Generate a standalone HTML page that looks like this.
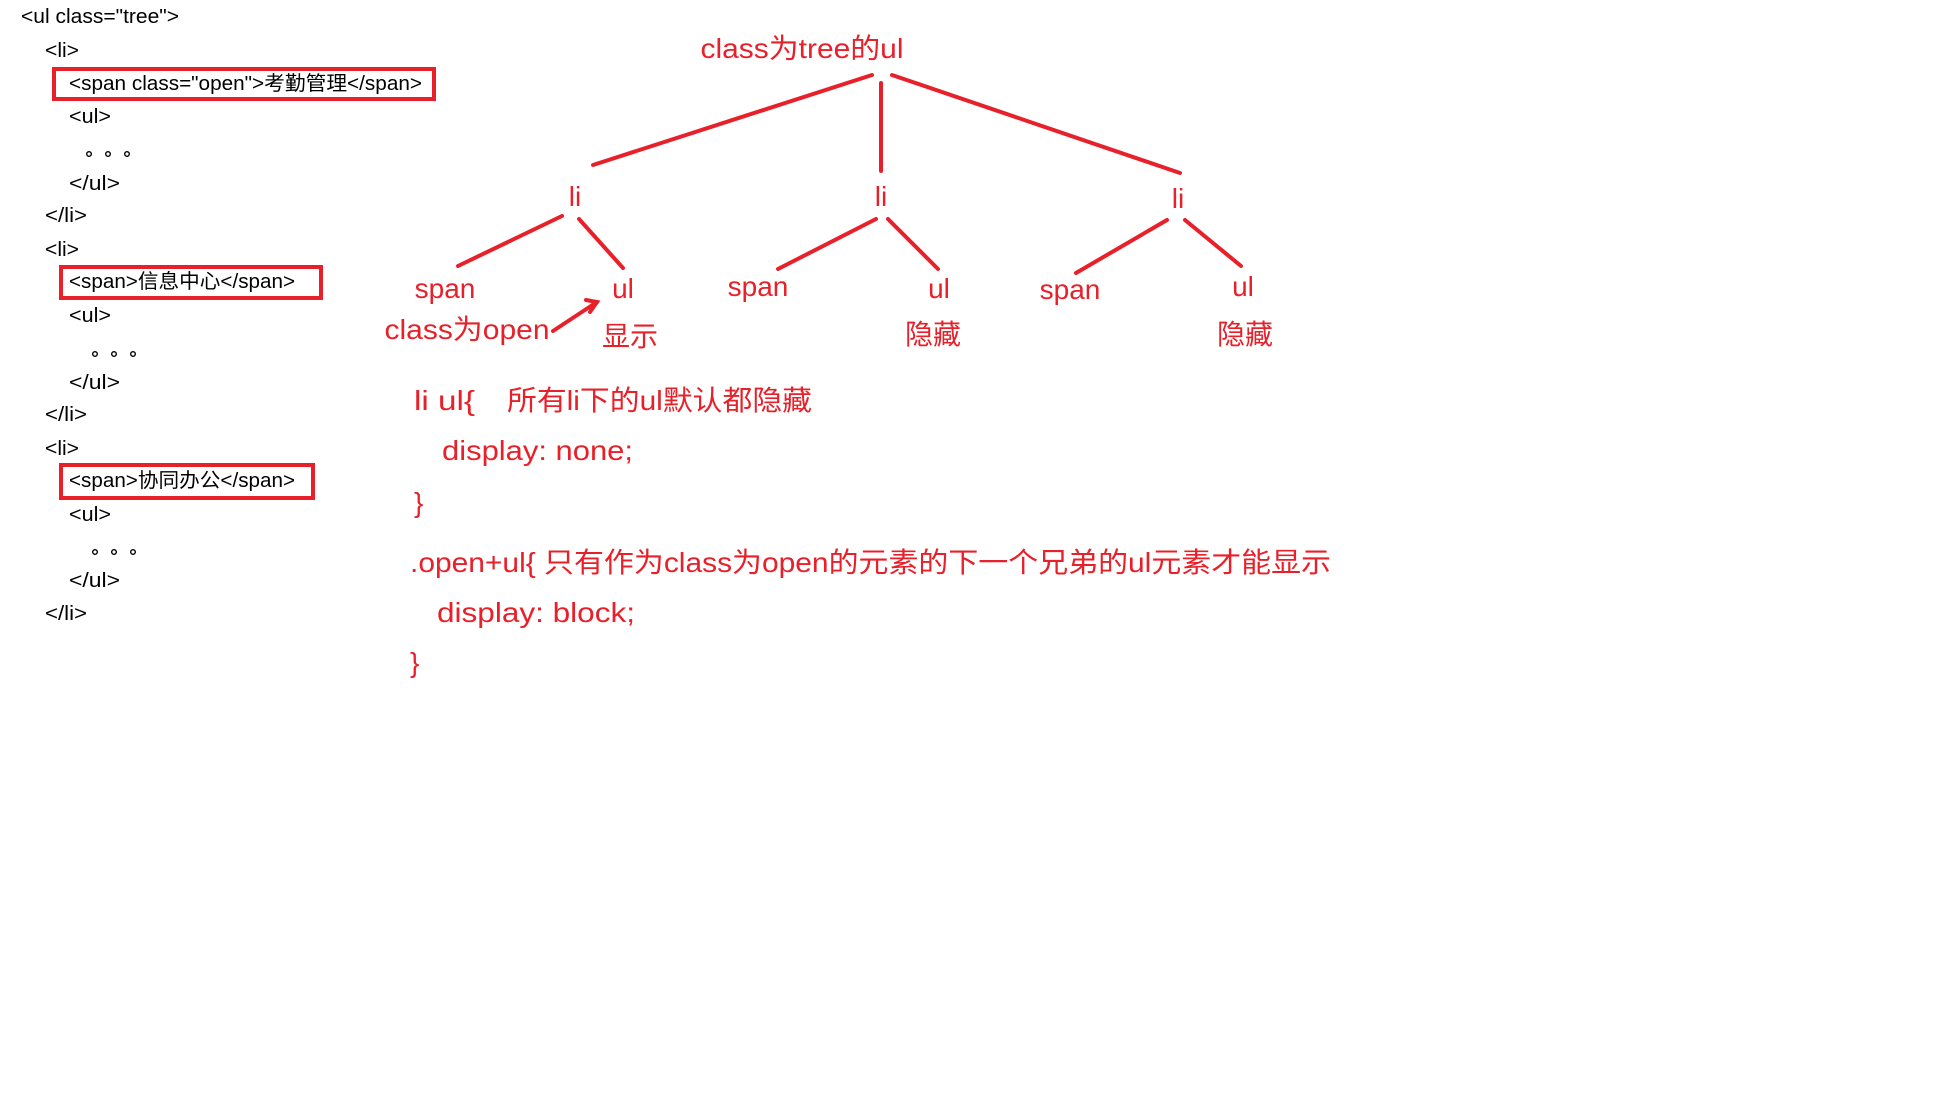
<!DOCTYPE html>
<html><head><meta charset="utf-8"><style>
html,body{margin:0;padding:0;background:#fff;}
svg{display:block;}
.c{font-family:"Liberation Sans","Noto Sans CJK SC",sans-serif;font-size:20px;fill:#000;}
.r{font-family:"Liberation Sans","Noto Sans CJK SC",sans-serif;font-size:28px;fill:#e8202a;}
</style></head><body>
<svg width="1952" height="1096" viewBox="0 0 1952 1096" xmlns="http://www.w3.org/2000/svg">
<rect width="1952" height="1096" fill="#fff"/>
<g class="c">
<text x="21" y="23" textLength="158" lengthAdjust="spacingAndGlyphs">&lt;ul class="tree"&gt;</text>
<text x="45" y="57" textLength="34" lengthAdjust="spacingAndGlyphs">&lt;li&gt;</text>
<text x="69" y="90" textLength="353" lengthAdjust="spacingAndGlyphs">&lt;span class="open"&gt;考勤管理&lt;/span&gt;</text>
<text x="69" y="123" textLength="42" lengthAdjust="spacingAndGlyphs">&lt;ul&gt;</text>
<text x="69" y="190" textLength="51" lengthAdjust="spacingAndGlyphs">&lt;/ul&gt;</text>
<text x="45" y="222" textLength="42" lengthAdjust="spacingAndGlyphs">&lt;/li&gt;</text>
<text x="45" y="256" textLength="34" lengthAdjust="spacingAndGlyphs">&lt;li&gt;</text>
<text x="69" y="288" textLength="226" lengthAdjust="spacingAndGlyphs">&lt;span&gt;信息中心&lt;/span&gt;</text>
<text x="69" y="322" textLength="42" lengthAdjust="spacingAndGlyphs">&lt;ul&gt;</text>
<text x="69" y="389" textLength="51" lengthAdjust="spacingAndGlyphs">&lt;/ul&gt;</text>
<text x="45" y="421" textLength="42" lengthAdjust="spacingAndGlyphs">&lt;/li&gt;</text>
<text x="45" y="455" textLength="34" lengthAdjust="spacingAndGlyphs">&lt;li&gt;</text>
<text x="69" y="487" textLength="226" lengthAdjust="spacingAndGlyphs">&lt;span&gt;协同办公&lt;/span&gt;</text>
<text x="69" y="521" textLength="42" lengthAdjust="spacingAndGlyphs">&lt;ul&gt;</text>
<text x="69" y="587" textLength="51" lengthAdjust="spacingAndGlyphs">&lt;/ul&gt;</text>
<text x="45" y="620" textLength="42" lengthAdjust="spacingAndGlyphs">&lt;/li&gt;</text>
</g>
<g fill="none" stroke="#000" stroke-width="1.4">
<circle cx="89" cy="154" r="2.3"/><circle cx="108" cy="154" r="2.3"/><circle cx="127" cy="154" r="2.3"/>
<circle cx="95" cy="354" r="2.3"/><circle cx="114" cy="354" r="2.3"/><circle cx="133" cy="354" r="2.3"/>
<circle cx="95" cy="552" r="2.3"/><circle cx="114" cy="552" r="2.3"/><circle cx="133" cy="552" r="2.3"/>
</g>
<g fill="none" stroke="#e8202a" stroke-width="4">
<rect x="54" y="69" width="380" height="30"/>
<rect x="61" y="267" width="260" height="31"/>
<rect x="61" y="465" width="252" height="33"/>
</g>
<g stroke="#e8202a" stroke-width="4" stroke-linecap="round" fill="none">
<line x1="872" y1="75" x2="593" y2="165"/>
<line x1="881" y1="83" x2="881" y2="171"/>
<line x1="892" y1="75" x2="1180" y2="173"/>
<line x1="562" y1="216" x2="458" y2="266"/>
<line x1="579" y1="219" x2="623" y2="268"/>
<line x1="876" y1="219" x2="778" y2="269"/>
<line x1="888" y1="219" x2="938" y2="269"/>
<line x1="1167" y1="220" x2="1076" y2="273"/>
<line x1="1185" y1="220" x2="1241" y2="266"/>
<line x1="553" y1="331" x2="597" y2="302"/>
<polyline points="586,300 597,302 590,312"/>
</g>
<g class="r" text-anchor="middle">
<text x="802" y="58" textLength="203" lengthAdjust="spacingAndGlyphs">class为tree的ul</text>
<text x="575" y="206">li</text>
<text x="881" y="206">li</text>
<text x="1178" y="208">li</text>
<text x="445" y="298">span</text>
<text x="623" y="298">ul</text>
<text x="758" y="296">span</text>
<text x="939" y="298">ul</text>
<text x="1070" y="299">span</text>
<text x="1243" y="296">ul</text>
<text x="467" y="339" textLength="165" lengthAdjust="spacingAndGlyphs">class为open</text>
<text x="630" y="346">显示</text>
<text x="933" y="344">隐藏</text>
<text x="1245" y="344">隐藏</text>
</g>
<g class="r">
<text x="414" y="410" textLength="61" lengthAdjust="spacingAndGlyphs">li ul{</text>
<text x="507" y="410" textLength="305" lengthAdjust="spacingAndGlyphs">所有li下的ul默认都隐藏</text>
<text x="442" y="460" textLength="191" lengthAdjust="spacingAndGlyphs">display: none;</text>
<text x="414" y="512">}</text>
<text x="410" y="572" textLength="921" lengthAdjust="spacingAndGlyphs">.open+ul{ 只有作为class为open的元素的下一个兄弟的ul元素才能显示</text>
<text x="437" y="622" textLength="198" lengthAdjust="spacingAndGlyphs">display: block;</text>
<text x="410" y="672">}</text>
</g>
</svg>
</body></html>
